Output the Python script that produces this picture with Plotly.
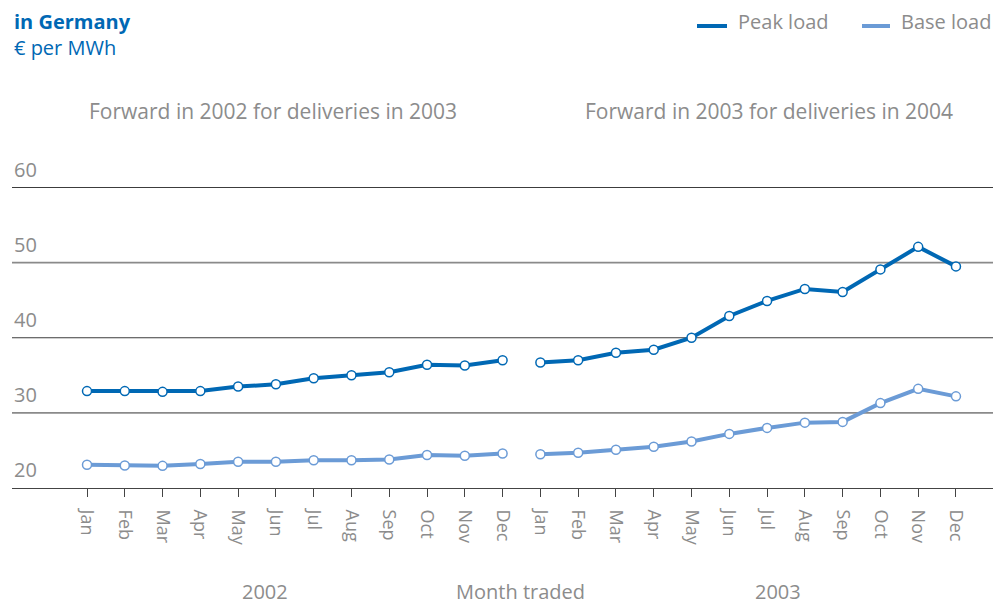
import plotly.graph_objects as go

months = ["Jan", "Feb", "Mar", "Apr", "May", "Jun", "Jul", "Aug", "Sep", "Oct", "Nov", "Dec"]

peak_2002 = [32.9, 32.9, 32.8, 32.9, 33.5, 33.8, 34.6, 35.0, 35.4, 36.4, 36.3, 37.0]
peak_2003 = [36.7, 37.0, 38.0, 38.4, 40.0, 42.9, 44.9, 46.5, 46.1, 49.1, 52.1, 49.5]
base_2002 = [23.1, 23.0, 22.95, 23.2, 23.5, 23.5, 23.7, 23.7, 23.8, 24.4, 24.3, 24.6]
base_2003 = [24.5, 24.7, 25.1, 25.5, 26.2, 27.2, 28.0, 28.7, 28.8, 31.3, 33.2, 32.2]

y_ticks = [20, 30, 40, 50, 60]

PEAK = "#0068b4"
BASE = "#6b9bd6"
GREY = "#8c8c8c"
FONT = "Open Sans"

# the page body adds ~8px around the figure, so work in screen pixels minus OFF
OFF = 8
W, H = 1005 - OFF, 605 - OFF
# plot area in screen pixels: x 12..993, y 186..488
PL, PR, PT, PB = 12 - OFF, 993 - OFF, 186 - OFF, 488 - OFF


def px_x(px):
    return (px - OFF - PL) / (PR - PL)


def px_y(py):
    return (PB - (py - OFF)) / (PB - PT)


x_2002 = list(range(0, 12))
x_2003 = list(range(12, 24))

fig = go.Figure()

# ===============================
# SERIES (one trace per traded year, gap in between)
# ===============================
for name, color, segs in [
    ("Peak load", PEAK, [(x_2002, peak_2002), (x_2003, peak_2003)]),
    ("Base load", BASE, [(x_2002, base_2002), (x_2003, base_2003)]),
]:
    for xs, ys in segs:
        fig.add_trace(go.Scatter(
            x=xs, y=ys, mode="lines+markers", name=name,
            line=dict(color=color, width=4),
            marker=dict(size=9, color="white", line=dict(color=color, width=1.5)),
            showlegend=False, hoverinfo="skip",
        ))

# ===============================
# AXES
# ===============================
fig.update_xaxes(
    range=[-1.985, 23.98],
    tickvals=list(range(24)),
    ticktext=months * 2,
    tickangle=90,
    ticks="outside", ticklen=8, tickcolor="#444", tickwidth=1,
    ticklabelstandoff=9,
    tickfont=dict(family=FONT, size=18, color=GREY),
    showgrid=False, zeroline=False,
    showline=True, linecolor="#444", linewidth=1,
)
fig.update_yaxes(
    range=[20, 60.2],
    showticklabels=False,
    showgrid=False, zeroline=False,
)

# gridlines (alternating tone like the original print)
shapes = []
for v in y_ticks[1:]:
    dark = v in (40, 60)
    shapes.append(dict(
        type="line", xref="paper", x0=0, x1=1, yref="y", y0=v, y1=v,
        line=dict(color="#3c3c3c" if dark else "#8a8a8a", width=1 if dark else 1.6),
        layer="below",
    ))

annotations = []
for v in y_ticks:
    annotations.append(dict(
        x=0, xref="paper", y=v, yref="y", text=str(v),
        xanchor="left", yanchor="bottom", yshift=3, showarrow=False,
        font=dict(family=FONT, size=20, color=GREY),
    ))

texts = [
    # x px, y px (screen), text, anchor, size, color
    (12, 21, "<b>in Germany</b>", "left", 20, PEAK),
    (12, 47, "€ per MWh", "left", 20, PEAK),
    (273, 111, "Forward in 2002 for deliveries in 2003", "center", 21, GREY),
    (769, 111, "Forward in 2003 for deliveries in 2004", "center", 21, GREY),
    (265, 591, "2002", "center", 20, GREY),
    (520, 591, "Month traded", "center", 20, GREY),
    (778, 591, "2003", "center", 20, GREY),
]
for px_, py_, t, anch, size, col in texts:
    annotations.append(dict(
        x=px_x(px_), xref="paper", y=px_y(py_), yref="paper",
        text=t, xanchor=anch, yanchor="middle", showarrow=False,
        font=dict(family=FONT, size=size, color=col),
    ))

# legend: line sample + label
for x0, x1, tx, name, color in [(697, 727, 736, "Peak load", PEAK), (862, 890, 899, "Base load", BASE)]:
    shapes.append(dict(
        type="line", xref="paper", yref="paper",
        x0=px_x(x0), x1=px_x(x1), y0=px_y(26), y1=px_y(26),
        line=dict(color=color, width=4),
    ))
    annotations.append(dict(
        x=px_x(tx), xref="paper", y=px_y(21), yref="paper",
        text=name, xanchor="left", yanchor="middle", showarrow=False,
        font=dict(family=FONT, size=20, color=GREY),
    ))

fig.update_layout(
    width=W, height=H,
    margin=dict(l=PL, r=W - PR, t=PT, b=H - PB, autoexpand=False),
    paper_bgcolor="white", plot_bgcolor="white",
    annotations=annotations,
    shapes=shapes,
    showlegend=False,
)

fig.write_html("out.html")
